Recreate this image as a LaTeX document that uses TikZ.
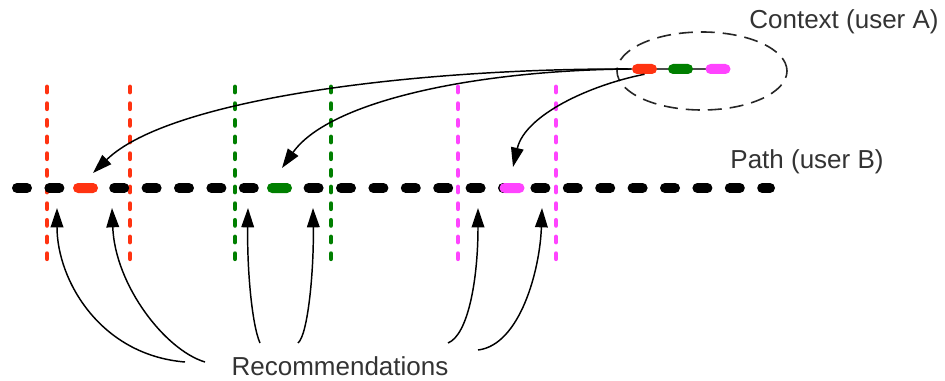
\documentclass[tikz,border=0pt]{standalone}
\usepackage{fontspec}
\setmainfont{Liberation Sans}
\usetikzlibrary{arrows.meta, shapes.geometric}
\definecolor{recred}{HTML}{FF3311}
\definecolor{recgreen}{HTML}{007F00}
\definecolor{recpink}{HTML}{FF44FF}
\definecolor{inkgray}{HTML}{333333}

\begin{document}
\begin{tikzpicture}[
  x=0.75pt, y=-0.75pt,
  lbl/.style={font=\fontsize{19.5}{23}\selectfont, text=inkgray, inner sep=0pt},
  seg/.style={rectangle, rounded corners=3.75pt, minimum width=18.75pt,
              minimum height=7.5pt, inner sep=0pt},
  guide/.style={line width=3.6pt, line cap=round, dash pattern=on 3.8pt off 8.7pt},
  pathline/.style={line width=7.5pt, line cap=round, dash pattern=on 7.5pt off 16.8pt},
  arr/.style={-{Triangle[length=14.5pt, width=9.5pt]}, line width=1.1pt}
]
  \useasboundingbox (0,0) rectangle (945,381);

  % Context of user A
  \node[ellipse, draw=black!85, line width=1.2pt, dash pattern=on 10.5pt off 6pt,
        minimum width=127.5pt, minimum height=58.5pt, inner sep=0pt] (ctx) at (702,71) {};
  \coordinate (cstart) at (644.5,69);
  \coordinate (cend) at (718,69);
  \draw[line width=1.1pt, black!70] (cstart) -- (cend);
  \node[seg, fill=recred] (cred) at (644.5,69) {};
  \node[seg, fill=recgreen] (cgreen) at (680.5,69) {};
  \node[seg, fill=recpink] (cpink) at (718,69) {};
  \node[lbl] (ctxlbl) at (844,22) {Context (user A)};

  % Guides round each match
  \draw[guide, recred] (47,87) -- (47,268);
  \draw[guide, recred] (130,87) -- (130,268);
  \draw[guide, recgreen] (235,87) -- (235,268);
  \draw[guide, recgreen] (331,87) -- (331,268);
  \draw[guide, recpink] (458,87) -- (458,268);
  \draw[guide, recpink] (556,87) -- (556,268);

  % Path of user B
  \coordinate (pstart) at (17,188);
  \coordinate (pend) at (770,188);
  \draw[pathline] (pstart) -- (pend);
  \node[seg, fill=recred] (bred) at (85.5,188) {};
  \node[seg, fill=recgreen] (bgreen) at (279.5,188) {};
  \node[seg, fill=recpink] (bpink) at (512,188) {};
  \node[lbl] (pathlbl) at (807,162) {Path (user B)};

  % Context -> path
  \draw[arr] (cred.west) .. controls (420,68) and (170,98) .. (93,173);
  \draw[arr] (cred.west) .. controls (480,70) and (330,100) .. (282,168);
  \draw[arr] (cred.south) .. controls (590,85) and (525,115) .. (513,167);

  % Recommendations
  \node[lbl] (rec) at (340,366) {Recommendations};
  \coordinate (t1) at (185,362);
  \coordinate (t2) at (205,362);
  \coordinate (t3) at (260,343);
  \coordinate (t4) at (298,343);
  \coordinate (t5) at (448,343);
  \coordinate (t6) at (478,350);
  \draw[arr] (t1) .. controls (100,355) and (57,280) .. (57,208);
  \draw[arr] (t2) .. controls (165,350) and (115,285) .. (112,208);
  \draw[arr] (t3) .. controls (252,325) and (247,270) .. (248,208);
  \draw[arr] (t4) .. controls (308,335) and (314,270) .. (313,208);
  \draw[arr] (t5) .. controls (468,335) and (478,280) .. (478,208);
  \draw[arr] (t6) .. controls (520,345) and (540,270) .. (542,208);
\end{tikzpicture}
\end{document}
